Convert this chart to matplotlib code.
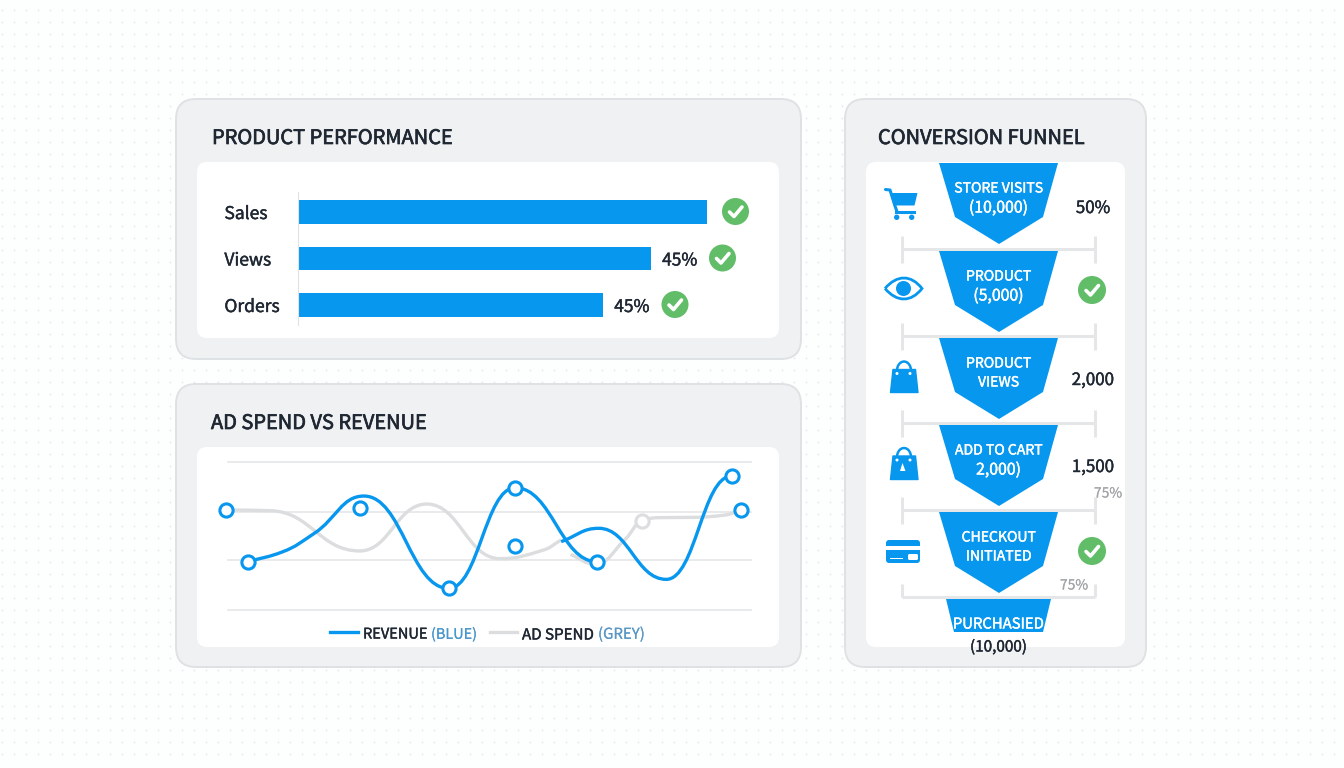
import matplotlib
matplotlib.use('Agg')
import matplotlib.pyplot as pl
import numpy as np
import matplotlib.patheffects as pe
from matplotlib.patches import FancyBboxPatch, Polygon, Circle, PathPatch, Rectangle
from matplotlib.path import Path

W, H = 1344, 768
BLUE = '#0897ee'
GREEN = '#62bd69'
DARK = '#1f2733'
GREY_LINE = '#e4e6e8'
FONT = 'Noto Sans CJK SC'

# bar panel
bar_names = ['Sales', 'Views', 'Orders']
bar_values = [100.0, 86.3, 74.6]
bar_labels = ['', '45%', '45%']

# line panel, x and y on a 0-100 scale
rev_x1 = [3.8, 10.5, 16.5, 26.0, 42.2, 54.9, 70.6]
rev_y1 = [32.6, 39.4, 51.8, 77.0, 14.6, 82.6, 32.6]
rev_x2 = [63.7, 70.9, 83.8, 96.3]
rev_y2 = [46.2, 55.2, 20.7, 90.5]
ad_x1 = [-0.3, 8.2, 25.2, 38.0, 52.0, 60.3, 63.7]
ad_y1 = [67.6, 67.1, 39.9, 71.6, 34.7, 40.5, 47.3]
ad_x2 = [65.5, 70.2, 76.0, 79.1, 82.3, 89.1, 95.1, 98.1]
ad_y2 = [37.5, 31.1, 48.0, 60.1, 62.4, 62.6, 64.2, 67.6]
blue_dot_x = [-0.3, 3.8, 25.2, 42.2, 54.9, 54.9, 70.6, 96.3, 98.1]
blue_dot_y = [67.6, 32.6, 68.7, 14.6, 82.6, 43.4, 32.6, 90.5, 67.6]
grey_dot_x = [79.1]
grey_dot_y = [60.1]
grid_levels = [0, 33.5, 66.5, 100]

# funnel panel
stage_lines = [['STORE VISITS', '(10,000)'], ['PRODUCT', '(5,000)'], ['PRODUCT', 'VIEWS'],
               ['ADD TO CART', '2,000)'], ['CHECKOUT', 'INITIATED']]
side_labels = ['50%', None, '2,000', '1,500', None]


def axes_px(fig, x0, y0, x1, y1):
    # axes from a box given in image pixels, y going down
    return fig.add_axes([x0 / W, 1 - y1 / H, (x1 - x0) / W, (y1 - y0) / H])


def smooth_path(x, y, flat_end=False):
    # monotone bezier through the read points, flat at every peak and trough
    x = np.array(x, float)
    y = np.array(y, float)
    dx = np.diff(x)
    s = np.diff(y) / dx
    m = np.zeros(len(x))
    m[0] = s[0]
    m[-1] = 0 if flat_end else s[-1]
    for i in range(1, len(x) - 1):
        if s[i - 1] * s[i] > 0:
            m[i] = 2 * s[i - 1] * s[i] / (s[i - 1] + s[i])
    verts = [(x[0], y[0])]
    codes = [Path.MOVETO]
    for i in range(len(x) - 1):
        h = dx[i] * 0.45
        verts += [(x[i] + h, y[i] + m[i] * h), (x[i + 1] - h, y[i + 1] - m[i + 1] * h), (x[i + 1], y[i + 1])]
        codes += [Path.CURVE4] * 3
    return Path(verts, codes)


def rbox(ax, x0, y0, x1, y1, r, **kw):
    ax.add_patch(FancyBboxPatch((x0 + r, y0 + r), x1 - x0 - 2 * r, y1 - y0 - 2 * r,
                                boxstyle='round,pad=%f,rounding_size=%f' % (r, r), **kw))


def check(ax, cx, cy, r=14):
    ax.add_patch(Circle((cx, cy), r, fc=GREEN, ec='none', zorder=6))
    ax.plot([cx - 6, cx - 1.5, cx + 6.5], [cy + 0.5, cy + 5, cy - 4.5], color='w', lw=2.6,
            solid_capstyle='round', solid_joinstyle='round', zorder=7)


def bolder(color, w=0.3):
    # the installed weight is a bit light, thicken it slightly
    return [pe.withStroke(linewidth=w, foreground=color)]


def txt(ax, x, y, s, size=12, color=DARK, ha='center', w=0.3):
    ax.text(x, y, s, fontsize=size, color=color, ha=ha, va='center_baseline', family=FONT,
            zorder=8, path_effects=bolder(color, w))


def draw_icons(bg):
    # cart
    bg.plot([885.5, 890, 895, 897], [189.5, 190, 206, 211.5], color=BLUE, lw=2.2, solid_capstyle='round')
    bg.add_patch(Polygon([(890, 193), (917.5, 193), (914.5, 205.5), (894, 205.5)], fc=BLUE, ec='none'))
    bg.plot([896, 914], [211.5, 211.5], color=BLUE, lw=2.2)
    for cx in (896.7, 911.7):
        bg.add_patch(Circle((cx, 217.3), 2.7, fc=BLUE, ec='none'))
    # eye
    eye = Path([(885, 288.5), (897, 274.5), (911, 274.5), (922, 288.5), (911, 302.5), (897, 302.5), (885, 288.5)],
               [Path.MOVETO, Path.CURVE4, Path.CURVE4, Path.CURVE4, Path.CURVE4, Path.CURVE4, Path.CURVE4])
    bg.add_patch(PathPatch(eye, fc='w', ec=BLUE, lw=2.0))
    bg.add_patch(Circle((903.5, 288.5), 7.5, fc=BLUE, ec='none'))
    # two bags
    for top, bottom in ((369.5, 392.5), (456, 479.5)):
        bg.add_patch(Polygon([(893, top), (915.5, top), (918, bottom), (890.5, bottom)], fc=BLUE, ec=BLUE,
                             lw=1, joinstyle='round'))
        t = np.radians(np.arange(180, -1, -15))
        bg.plot(904 + 7 * np.cos(t), top + 1 - 9 * np.sin(t), color=BLUE, lw=1.8)
        for cx in (897, 910):
            bg.add_patch(Circle((cx, top + 4), 1.5, fc='w', ec='none'))
    bg.add_patch(Polygon([(902.5, 463), (900, 471), (905.5, 471)], fc='w', ec='none'))
    # card
    rbox(bg, 886, 540, 920, 563, 3, fc=BLUE, ec='none')
    bg.add_patch(Rectangle((886, 546), 34, 4, fc='w', ec='none'))
    bg.add_patch(Rectangle((890, 557.5), 13, 1.5, fc='w', ec='none'))
    rbox(bg, 908, 554, 918, 560, 1.5, fc='w', ec='none')


def draw_funnel(bg):
    tops = [163, 251, 338, 425, 512]
    for y in [249, 336, 423, 510, 597]:
        bg.plot([902, 1095], [y, y], color=GREY_LINE, lw=2.2, solid_capstyle='butt', zorder=2)
        lo = y + 14 if y < 597 else y
        for x in (902, 1095):
            bg.plot([x, x], [y - 13, lo], color=GREY_LINE, lw=2.2, solid_capstyle='butt', zorder=2)
    for i, top in enumerate(tops):
        bg.add_patch(Polygon([(939, top), (1058, top), (1043, top + 54), (999, top + 81), (955, top + 54)],
                             fc=BLUE, ec='none', zorder=3))
        first, second = stage_lines[i]
        txt(bg, 998.5, top + 24, first, size=10.1, color='w')
        txt(bg, 998.5, top + 43, second, size=11.4 if second[-1] == ')' else 10.1, color='w')
        if side_labels[i]:
            txt(bg, 1093, top + [43, 0, 40, 40][min(i, 3)], side_labels[i], size=12.2)
    bg.add_patch(Polygon([(946, 599), (1051, 599), (1043, 632), (954, 632)], fc=BLUE, ec='none', zorder=3))
    txt(bg, 998.5, 623, 'PURCHASIED', size=10.7, color='w')
    txt(bg, 998.5, 645, '(10,000)', size=11)
    txt(bg, 1108, 492, '75%', size=10, color='#a3a6a9', w=0.1)
    txt(bg, 1074, 584, '75%', size=10, color='#a3a6a9', w=0.1)
    check(bg, 1092, 290)
    check(bg, 1092, 551)


def main():
    fig = pl.figure(figsize=(W / 100, H / 100), dpi=100, facecolor='#fdfefe')
    bg = fig.add_axes([0, 0, 1, 1])
    bg.set_xlim(0, W)
    bg.set_ylim(H, 0)
    bg.axis('off')

    # dotted page
    gx, gy = np.meshgrid(np.arange(2, W, 12), np.arange(10, 760, 12))
    bg.scatter(gx.ravel(), gy.ravel(), s=1.4, color='#e3e6e8', linewidths=0)

    for x0, y0, x1, y1 in [(176, 99, 801, 359), (176, 384, 801, 667), (845, 99, 1146, 667)]:
        rbox(bg, x0, y0, x1, y1, 20, fc='#f0f1f2', ec='#dfe2e4', lw=1.4)
    for x0, y0, x1, y1 in [(197, 162, 779, 338), (197, 447, 779, 647), (866, 162, 1125, 647)]:
        rbox(bg, x0, y0, x1, y1, 10, fc='w', ec='none')

    txt(bg, 212, 136, 'PRODUCT PERFORMANCE', size=14.4, ha='left', w=0.5)
    txt(bg, 211, 421, 'AD SPEND VS REVENUE', size=14.4, ha='left', w=0.5)
    txt(bg, 878, 136, 'CONVERSION FUNNEL', size=14.4, ha='left', w=0.5)

    # horizontal bars
    ax = axes_px(fig, 298, 192, 707, 325)
    ax.patch.set_alpha(0)
    ypos = np.arange(len(bar_names))
    ax.barh(ypos, bar_values, height=0.5, color=BLUE)
    ax.set_xlim(0, 100)
    ax.set_ylim(2.43, -0.43)
    ax.set_xticks([])
    ax.set_yticks(ypos)
    ax.set_yticklabels(bar_names, fontsize=12.6, color=DARK, family=FONT, ha='left', path_effects=bolder(DARK))
    ax.tick_params(axis='y', length=0, pad=53)
    for side in ('top', 'right', 'bottom'):
        ax.spines[side].set_visible(False)
    ax.spines['left'].set_color('#dfe3e6')
    for y, v, s in zip(ypos, bar_values, bar_labels):
        if s:
            ax.annotate(s, (v, y), xytext=(8, 0), textcoords='offset points', va='center_baseline',
                        fontsize=12.5, color=DARK, family=FONT, path_effects=bolder(DARK))
    check(bg, 735.5, 211.5, 13.5)
    check(bg, 722.5, 258, 13.5)
    check(bg, 675, 304.5, 13.5)

    # lines
    ax = axes_px(fig, 228, 462, 751, 610)
    ax.patch.set_alpha(0)
    ax.set_xlim(0, 100)
    ax.set_ylim(0, 100)
    ax.axis('off')
    for level in grid_levels:
        ax.axhline(level, color='#e6e8ea', lw=1.3, zorder=1, clip_on=False)
    for x, y in ((ad_x1, ad_y1), (ad_x2, ad_y2)):
        ax.add_patch(PathPatch(smooth_path(x, y), fc='none', ec='#dcdddf', lw=2.4, zorder=2, clip_on=False))
    for x, y in ((rev_x1, rev_y1), (rev_x2, rev_y2)):
        ax.add_patch(PathPatch(smooth_path(x, y, flat_end=True), fc='none', ec=BLUE, lw=2.4, zorder=3, clip_on=False))
    ax.plot(blue_dot_x, blue_dot_y, 'o', ms=9.5, mfc='w', mec=BLUE, mew=2.2, zorder=4, clip_on=False)
    ax.plot(grey_dot_x, grey_dot_y, 'o', ms=9.5, mfc='w', mec='#dcdddf', mew=2.2, zorder=4, clip_on=False)

    # legend pieces
    bg.plot([330, 358], [632, 632], color=BLUE, lw=2.4)
    bg.plot([490, 517], [632, 632], color='#dcdddf', lw=2.4)
    txt(bg, 363, 633, 'REVENUE', size=10.5, ha='left')
    txt(bg, 431, 633, '(BLUE)', size=10.4, ha='left', color='#4a97cc', w=0.1)
    txt(bg, 522, 633, 'AD SPEND', size=10.9, ha='left')
    txt(bg, 598, 633, '(GREY)', size=10.8, ha='left', color='#5b97c4', w=0.1)

    draw_funnel(bg)
    draw_icons(bg)

    fig.savefig('out.png', dpi=100, facecolor=fig.get_facecolor())


if __name__ == '__main__':
    main()
